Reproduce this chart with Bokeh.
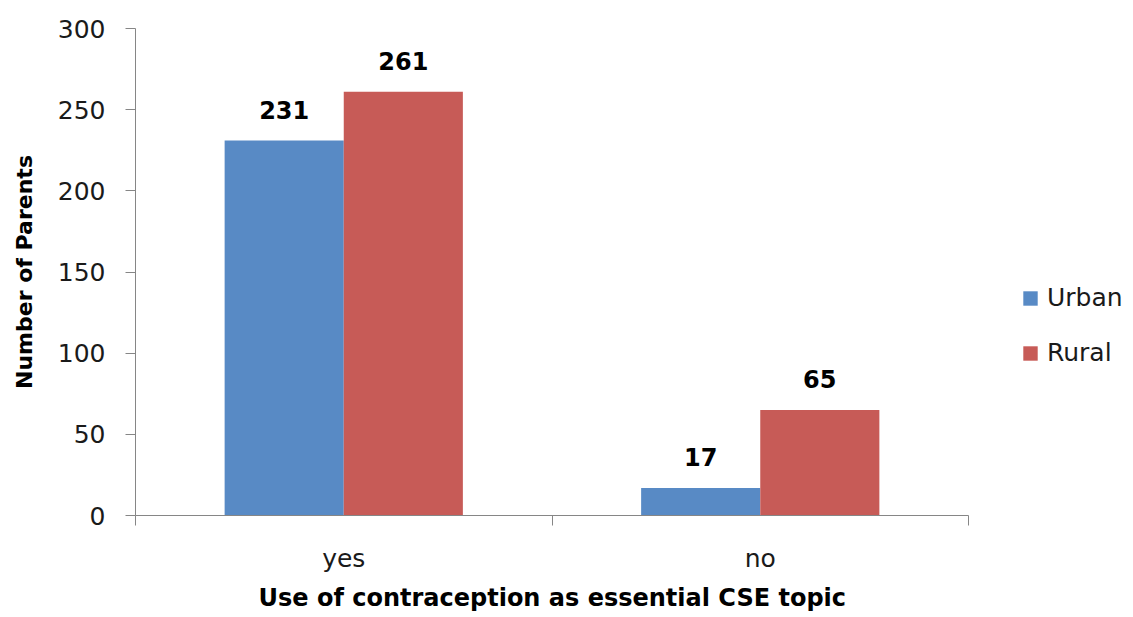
import numpy as np
from bokeh.plotting import figure
from bokeh.models import (ColumnDataSource, Range1d, FixedTicker, Legend, LegendItem, Title)
from bokeh.core.properties import value
from bokeh.embed import file_html
from bokeh.resources import INLINE

categories = ["yes", "no"]
series_names = ["Urban", "Rural"]
urban = [231, 17]
rural = [261, 65]
y_ticks = [0, 50, 100, 150, 200, 250, 300]
x_title = "Use of contraception as essential CSE topic"
y_title = "Number of Parents"

colors = {"Urban": "#588AC5", "Rural": "#C75B57"}
FONT = "DejaVu Sans"
AXIS = "#868686"

W, H = 1133, 617
LEFT, TOP, BOTTOM, RIGHT = 135, 28, 100, 0
AXIS_RIGHT_PX = 968  # where the category axis ends
n = len(categories)
x_end = n * (W - RIGHT - LEFT) / (AXIS_RIGHT_PX - LEFT)

centers = np.arange(n) + 0.5
bar_w = 0.286

p = figure(width=W, height=H, output_backend="svg", toolbar_location=None,
           x_range=Range1d(0, x_end), y_range=Range1d(0, 300),
           min_border_left=LEFT, min_border_right=RIGHT, min_border_top=TOP,
           min_border_bottom=BOTTOM)
p.outline_line_color = None
p.xgrid.visible = False
p.ygrid.visible = False

renderers = []
for name, vals, off in [("Urban", urban, -bar_w / 2), ("Rural", rural, bar_w / 2)]:
    src = ColumnDataSource(dict(x=centers + off, top=vals, lab=[str(v) for v in vals]))
    r = p.vbar(x="x", top="top", width=bar_w, source=src, fill_color=colors[name],
               line_color=None)
    renderers.append((name, r))
    p.text(x="x", y="top", text="lab", source=src, text_align="center",
           text_baseline="alphabetic", y_offset=-31, text_font=value(FONT),
           text_font_size="24px", text_font_style="bold", text_color="#000000")

# x axis
xa = p.xaxis[0]
xa.bounds = (0, n)
xa.ticker = FixedTicker(ticks=list(centers), minor_ticks=list(range(n + 1)))
xa.major_label_overrides = {float(c): cat for c, cat in zip(centers, categories)}
xa.major_tick_out = 0
xa.major_tick_in = 0
xa.minor_tick_out = 10
xa.minor_tick_in = 0
xa.minor_tick_line_color = AXIS
xa.axis_line_color = AXIS
xa.major_label_text_font = FONT
xa.major_label_text_font_size = "25px"
xa.major_label_text_line_height = 1.0
xa.major_label_text_color = "#1a1a1a"
xa.major_label_standoff = 18

xt = Title(text=x_title, align="left", offset=123, standoff=12,
           text_font=FONT, text_font_size="24px", text_font_style="bold",
           text_line_height=1.0, text_color="#000000")
p.add_layout(xt, "below")

# y axis
ya = p.yaxis[0]
ya.ticker = FixedTicker(ticks=y_ticks)
ya.major_tick_out = 10
ya.major_tick_in = 0
ya.minor_tick_out = 0
ya.minor_tick_in = 0
ya.major_tick_line_color = AXIS
ya.axis_line_color = AXIS
ya.major_label_text_font = FONT
ya.major_label_text_font_size = "25px"
ya.major_label_text_color = "#1a1a1a"
ya.major_label_standoff = 20
ya.axis_label = y_title
ya.axis_label_text_font = FONT
ya.axis_label_text_font_size = "22px"
ya.axis_label_text_font_style = "bold"
ya.axis_label_text_color = "#000000"
ya.axis_label_standoff = 18

legend = Legend(items=[LegendItem(label=nm, renderers=[r]) for nm, r in renderers],
                location=(886, 148), padding=0, margin=0, spacing=26,
                glyph_width=18, glyph_height=18, label_standoff=8,
                label_text_font=FONT, label_text_font_size="25px",
                label_text_color="#1a1a1a",
                border_line_alpha=0, background_fill_alpha=0)
p.add_layout(legend, "center")

open("out.html", "w").write(file_html(p, INLINE))
